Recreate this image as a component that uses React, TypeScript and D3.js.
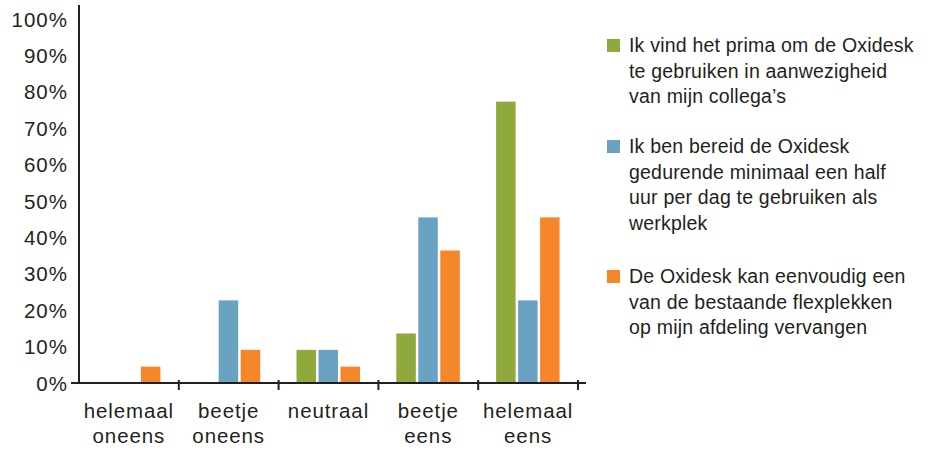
import React from "react";
import * as d3 from "d3";

const categories = [
  ["helemaal", "oneens"],
  ["beetje", "oneens"],
  ["neutraal"],
  ["beetje", "eens"],
  ["helemaal", "eens"],
];
const seriesNames = [
  ["Ik vind het prima om de Oxidesk", "te gebruiken in aanwezigheid", "van mijn collega’s"],
  ["Ik ben bereid de Oxidesk", "gedurende minimaal een half", "uur per dag te gebruiken als", "werkplek"],
  ["De Oxidesk kan eenvoudig een", "van de bestaande flexplekken", "op mijn afdeling vervangen"],
];
const greenValues = [0, 0, 9.1, 13.6, 77.3];
const blueValues = [0, 22.7, 9.1, 45.5, 22.7];
const orangeValues = [4.5, 9.1, 4.5, 36.4, 45.5];
const colors = ["#8fa93d", "#6aa2c1", "#f5862a"];
const yTicks = [0, 10, 20, 30, 40, 50, 60, 70, 80, 90, 100];
const series = [greenValues, blueValues, orangeValues];

export default function App() {
  const W = 936, H = 450;
  const font = "'Liberation Sans', Arial, sans-serif";
  const textColor = "#231f20";
  const x0 = 79, x1 = 578, yBase = 383, yTop = 19;
  const keys = categories.map((c) => c.join(" "));
  const x = d3.scaleBand<string>().domain(keys).range([x0, x1]).padding(0);
  const y = d3.scaleLinear().domain([0, 100]).range([yBase, yTop]);
  const groupW = 66;
  const inner = d3.scaleBand<number>().domain([0, 1, 2]).range([0, groupW]).padding(0);
  const off = (x.bandwidth() - groupW) / 2;
  const boundaries = keys.map((k) => (x(k) as number) + x.bandwidth());
  const legendY = [52, 153, 283];
  const lineH = 25.5;

  return (
    <svg width={W} height={H} style={{ position: "absolute", left: 0, top: 0, background: "#fff" }}>
      {/* bars */}
      {series.map((vals, si) =>
        vals.map((v, ci) =>
          v > 0 ? (
            <rect
              key={`${si}-${ci}`}
              x={(x(keys[ci]) as number) + off + (inner(si) as number) + 1}
              y={y(v)}
              width={inner.bandwidth() - 2.5}
              height={yBase - y(v)}
              fill={colors[si]}
            />
          ) : null
        )
      )}
      {/* axes */}
      <line x1={x0} x2={x0} y1={5} y2={yBase + 1} stroke="#231f20" strokeWidth={2} />
      <line x1={71} x2={586} y1={yBase} y2={yBase} stroke="#231f20" strokeWidth={2} />
      {boundaries.map((b, i) => (
        <line key={i} x1={b} x2={b} y1={yBase - 3} y2={yBase + 7} stroke="#231f20" strokeWidth={2} />
      ))}
      {/* y tick labels */}
      {yTicks.map((t) => (
        <text
          key={t}
          x={68}
          y={y(t) + 7.5}
          textAnchor="end"
          fontFamily={font}
          fontSize={20.5}
          letterSpacing={1}
          fill={textColor}
        >
          {t}%
        </text>
      ))}
      {/* x labels */}
      {categories.map((lines, ci) => (
        <text
          key={ci}
          textAnchor="middle"
          fontFamily={font}
          fontSize={20.5}
          letterSpacing={0.9}
          fill={textColor}
        >
          {lines.map((l, li) => (
            <tspan key={li} x={(x(keys[ci]) as number) + x.bandwidth() / 2} y={418 + li * 25}>
              {l}
            </tspan>
          ))}
        </text>
      ))}
      {/* legend */}
      {seriesNames.map((lines, si) => (
        <g key={si}>
          <rect x={607} y={legendY[si] - 13} width={13} height={13} fill={colors[si]} />
          <text fontFamily={font} fontSize={19.5} letterSpacing={0.2} fill={textColor}>
            {lines.map((l, li) => (
              <tspan key={li} x={629} y={legendY[si] + li * lineH}>
                {l}
              </tspan>
            ))}
          </text>
        </g>
      ))}
    </svg>
  );
}
